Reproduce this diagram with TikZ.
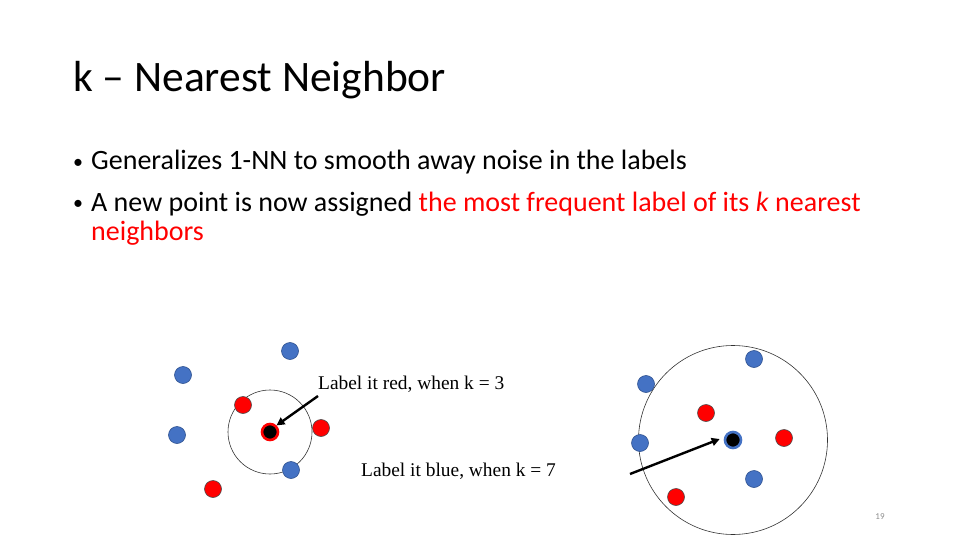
\documentclass[tikz,border=0pt]{standalone}
\usepackage{fontspec}
\setmainfont{Carlito}
\newfontfamily\labelfont{Liberation Serif}
\usetikzlibrary{arrows.meta}
\definecolor{ptblue}{HTML}{4472C4}
\definecolor{ptblueedge}{HTML}{2F528F}
\definecolor{ptred}{HTML}{FF0000}
\definecolor{pagegray}{HTML}{8C8C8C}
\tikzset{
  bluept/.style={circle, fill=ptblue, draw=ptblueedge, line width=0.6pt, minimum size=17pt, inner sep=0pt},
  redpt/.style={circle, fill=ptred, draw=black!70, line width=0.6pt, minimum size=17pt, inner sep=0pt},
  querypt/.style={circle, fill=black, line width=2.6pt, minimum size=17pt, inner sep=0pt},
  region/.style={circle, draw=black!80, line width=0.6pt, inner sep=0pt},
  pointer/.style={-{Triangle[length=8pt,width=8pt]}, line width=2.4pt},
  bodytext/.style={anchor=base west, inner sep=0pt, font=\fontsize{28}{34}\selectfont},
  bulletmark/.style={anchor=base west, inner sep=0pt, font=\fontsize{20}{24}\selectfont},
  annot/.style={anchor=base west, inner sep=0pt, font=\labelfont\fontsize{19.4}{23}\selectfont}
}
\begin{document}
\begin{tikzpicture}[x=1pt, y=-1pt]
\useasboundingbox (0,0) rectangle (960,540);

% heading and bullets
\node[anchor=base west, inner sep=0pt, font=\fontsize{43.5}{52}\selectfont] (title) at (73,92) {k -- Nearest Neighbor};
\node[bulletmark] (d1) at (73,168) {\textbullet};
\node[bodytext] (b1) at (91,170) {Generalizes 1-NN to smooth away noise in the labels};
\node[bulletmark] (d2) at (73,209) {\textbullet};
\node[bodytext] (b2) at (91,211) {A new point is now assigned \textcolor{ptred}{the most frequent label of its \textit{k} nearest}};
\node[bodytext, text=ptred] (b3) at (91,240) {neighbors};

% left example: k = 3
\node[region, minimum size=84pt] (r1) at (270,432) {};
\node[bluept] (l1) at (183,375) {};
\node[bluept] (l2) at (290,351) {};
\node[bluept] (l3) at (177,435) {};
\node[bluept] (l4) at (291,470) {};
\node[redpt] (l5) at (243,405) {};
\node[redpt] (l6) at (321,428) {};
\node[redpt] (l7) at (213,489) {};
\node[querypt, draw=ptred, minimum size=16pt] (q1) at (270,432) {};
\node[annot] (t1) at (318,389) {Label it red, when k = 3};
\coordinate (a1) at (318,396);
\draw[pointer] (a1) -- (q1.north east);

% right example: k = 7
\node[region, minimum size=189pt] (r2) at (733,440) {};
\node[bluept] (m1) at (646,384) {};
\node[bluept] (m2) at (754,359) {};
\node[bluept] (m3) at (640,443) {};
\node[bluept] (m4) at (754,479) {};
\node[redpt] (m5) at (706,413) {};
\node[redpt] (m6) at (784,438) {};
\node[redpt] (m7) at (676,497) {};
\node[querypt, draw=ptblue, minimum size=16pt] (q2) at (733,440) {};
\node[annot] (t2) at (361,476) {Label it blue, when k = 7};
\coordinate (a2) at (630,474);
\draw[pointer] (a2) -- ([xshift=-4pt,yshift=1pt]q2.west);

% slide number
\node[anchor=base, inner sep=0pt, text=pagegray, font=\fontsize{9}{11}\selectfont] (pg) at (880,519) {19};
\end{tikzpicture}
\end{document}
